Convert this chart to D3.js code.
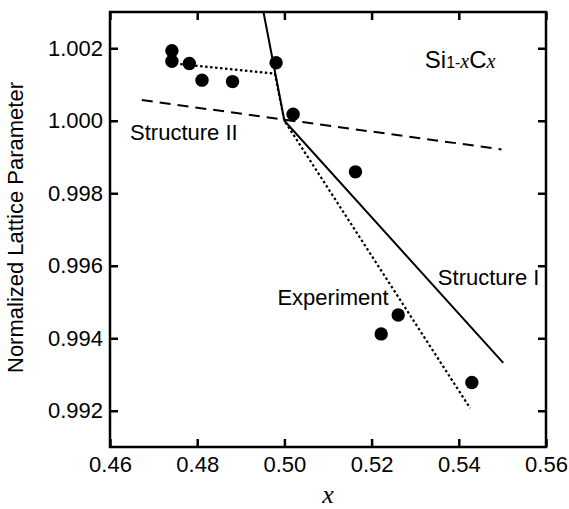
<!DOCTYPE html>
<html>
<head>
<meta charset="utf-8">
<script src="https://cdn.jsdelivr.net/npm/d3@7"></script>
<style>
  body { margin: 0; background: #fff; }
  svg text { font-family: "Liberation Sans", Arial, sans-serif; fill: #000; }
</style>
</head>
<body>
<div id="chart"></div>
<script>
// experimental points
const expX = [0.4742, 0.4742, 0.4782, 0.4811, 0.4881, 0.4981, 0.5020, 0.5163, 0.5222, 0.5261, 0.5430];
const expY = [1.00193, 1.00164, 1.00158, 1.00112, 1.00108, 1.00160, 1.00018, 0.99859, 0.99412, 0.99464, 0.99278];

// Structure I (solid)
const s1X = [0.4952, 0.5000, 0.5502];
const s1Y = [1.0030, 1.0000, 0.99332];

// Structure II (dashed)
const s2X = [0.4673, 0.5498];
const s2Y = [1.00057, 0.99921];

// Experiment fit (dotted)
const fitX = [0.4761, 0.4978, 0.5000, 0.5426];
const fitY = [1.00156, 1.0013, 1.0000, 0.99207];

const xTicks = [0.46, 0.48, 0.50, 0.52, 0.54, 0.56];
const yTicks = [0.992, 0.994, 0.996, 0.998, 1.000, 1.002];

const W = 569, H = 509;
const margin = {top: 12, right: 23, bottom: 62, left: 110};
const width = W - margin.left - margin.right,
      height = H - margin.top - margin.bottom;

const svg = d3.select("#chart").append("svg")
    .attr("width", W)
    .attr("height", H)
  .append("g")
    .attr("transform", `translate(${margin.left},${margin.top})`);

const x = d3.scaleLinear().domain([0.46, 0.56]).range([0, width]);
const y = d3.scaleLinear().domain([0.991, 1.003]).range([height, 0]);

svg.append("defs").append("clipPath").attr("id", "clip")
  .append("rect").attr("width", width).attr("height", height);

const fontSize = 22;

// axes, ticks pointing inward
svg.append("g")
    .attr("transform", `translate(0,${height})`)
    .call(d3.axisBottom(x).tickValues(xTicks).tickFormat(d3.format(".2f")).tickSize(-8).tickPadding(9));
svg.append("g")
    .call(d3.axisLeft(y).tickValues(yTicks).tickFormat(d3.format(".3f")).tickSize(-8).tickPadding(7));
svg.append("g")
    .call(d3.axisTop(x).tickValues(xTicks).tickFormat("").tickSize(-8));
svg.append("g")
    .attr("transform", `translate(${width},0)`)
    .call(d3.axisRight(y).tickValues(yTicks).tickFormat("").tickSize(-8));

svg.selectAll(".domain").remove();
svg.selectAll(".tick line").attr("stroke", "#000").attr("stroke-width", 2.5);
svg.selectAll(".tick text").style("font-size", fontSize + "px");

svg.append("rect")
    .attr("width", width)
    .attr("height", height)
    .attr("fill", "none")
    .attr("stroke", "#000")
    .attr("stroke-width", 2.5);

const line = d3.line().x(d => x(d[0])).y(d => y(d[1]));
const plot = svg.append("g").attr("clip-path", "url(#clip)");

plot.append("path")
    .attr("d", line(s2X.map((v, i) => [v, s2Y[i]])))
    .attr("fill", "none").attr("stroke", "#000").attr("stroke-width", 2)
    .attr("stroke-dasharray", "11,7");

plot.append("path")
    .attr("d", line(fitX.map((v, i) => [v, fitY[i]])))
    .attr("fill", "none").attr("stroke", "#000").attr("stroke-width", 2.2)
    .attr("stroke-dasharray", "2.5,2.5");

plot.append("path")
    .attr("d", line(s1X.map((v, i) => [v, s1Y[i]])))
    .attr("fill", "none").attr("stroke", "#000").attr("stroke-width", 2);

plot.selectAll("circle")
  .data(expX.map((v, i) => [v, expY[i]]))
  .join("circle")
    .attr("cx", d => x(d[0]))
    .attr("cy", d => y(d[1]))
    .attr("r", 6.7)
    .attr("fill", "#000");

// labels
svg.append("text").attr("x", x(0.4646)).attr("y", y(0.99947))
    .style("font-size", fontSize + "px").text("Structure II");
svg.append("text").attr("x", x(0.5352)).attr("y", y(0.99547))
    .style("font-size", fontSize + "px").text("Structure I");
svg.append("text").attr("x", x(0.4984)).attr("y", y(0.99492))
    .style("font-size", fontSize + "px").text("Experiment");

const formula = svg.append("text").attr("x", x(0.5322)).attr("y", y(1.00145));
formula.append("tspan").style("font-size", "24px").text("Si");
formula.append("tspan").style("font-size", "16px").text("1-");
formula.append("tspan").style("font-size", "20px").style("font-family", "Liberation Serif, serif").style("font-style", "italic").text("x");
formula.append("tspan").style("font-size", "24px").text("C");
formula.append("tspan").style("font-size", "20px").style("font-family", "Liberation Serif, serif").style("font-style", "italic").text("x");

svg.append("text")
    .attr("transform", `translate(${15 - margin.left},${height / 2 - 2}) rotate(-90)`)
    .attr("dy", "0.35em")
    .style("text-anchor", "middle")
    .style("font-size", fontSize + "px")
    .text("Normalized Lattice Parameter");

svg.append("text")
    .attr("x", width / 2)
    .attr("y", height + 56)
    .style("text-anchor", "middle")
    .style("font-family", "Liberation Serif, serif")
    .style("font-style", "italic")
    .style("font-size", "26px")
    .text("x");
</script>
</body>
</html>
